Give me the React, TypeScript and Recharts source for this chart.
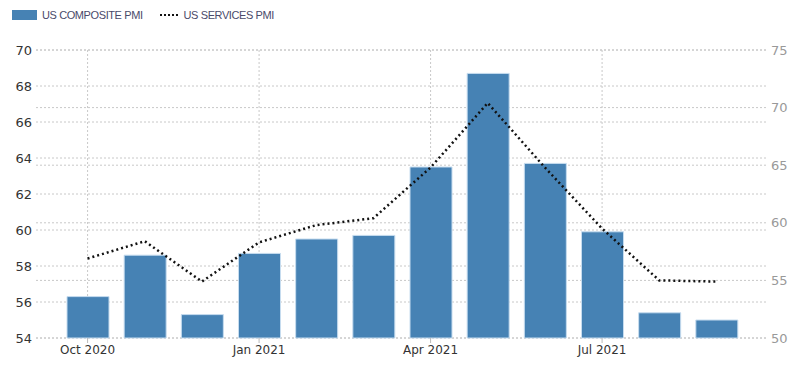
import React from 'react';
import { ComposedChart, Bar, Line, XAxis, YAxis, CartesianGrid } from 'recharts';

const months = [
  'Oct 2020', 'Nov 2020', 'Dec 2020', 'Jan 2021', 'Feb 2021', 'Mar 2021',
  'Apr 2021', 'May 2021', 'Jun 2021', 'Jul 2021', 'Aug 2021', 'Sep 2021',
];
const compositePmi = [56.3, 58.6, 55.3, 58.7, 59.5, 59.7, 63.5, 68.7, 63.7, 59.9, 55.4, 55.0];
const servicesPmi = [56.9, 58.4, 54.9, 58.3, 59.8, 60.4, 64.8, 70.4, 64.8, 59.5, 55.0, 54.9];
const leftTicks = [54, 56, 58, 60, 62, 64, 66, 68, 70];
const rightTicks = [50, 55, 60, 65, 70, 75];

const data = months.map((m, i) => ({ month: m, composite: compositePmi[i], services: servicesPmi[i] }));

const font = '"DejaVu Sans", Tahoma, sans-serif';
const BLUE = '#4682b4';

export default function App() {
  return (
    <div style={{ position: 'absolute', left: 0, top: 0, width: 800, height: 370, background: '#fff', fontFamily: font }}>
      <div style={{ position: 'absolute', left: 12, top: 9, display: 'flex', alignItems: 'center', fontSize: 11, color: '#4a4a6a', fontFamily: '"Liberation Sans", Arial, sans-serif', letterSpacing: -0.4 }}>
        <span style={{ display: 'inline-block', width: 25, height: 10, background: BLUE, marginRight: 5 }} />
        <span>US COMPOSITE PMI</span>
        <svg width={22} height={10} style={{ marginLeft: 16, marginRight: 3 }}>
          <line x1={1} y1={5} x2={19} y2={5} stroke="#111" strokeWidth={2} strokeDasharray="2 2" />
        </svg>
        <span>US SERVICES PMI</span>
      </div>
      <ComposedChart width={800} height={370} data={data} margin={{ top: 50, right: 0, left: 4, bottom: 7 }}>
        <CartesianGrid yAxisId="left" syncWithTicks stroke="#c8c8c8" strokeDasharray="2 2" />
        <CartesianGrid yAxisId="right" vertical={false} stroke="#c8c8c8" strokeDasharray="2 2" />
        <XAxis
          dataKey="month"
          interval={2}
          padding={{ left: 23, right: 23 }}
          axisLine={false}
          tickLine={{ stroke: '#bbb' }}
          tickSize={5}
          tick={{ fill: '#333', fontSize: 12, fontFamily: font }}
          height={25}
        />
        <YAxis
          yAxisId="left"
          domain={[54, 70]}
          ticks={leftTicks}
          axisLine={false}
          tickLine={false}
          tickSize={0}
          tickMargin={4}
          tick={{ fill: '#333', fontSize: 13, fontFamily: font }}
          width={32}
        />
        <YAxis
          yAxisId="right"
          orientation="right"
          domain={[50, 75]}
          ticks={rightTicks}
          axisLine={false}
          tickLine={false}
          tickSize={0}
          tickMargin={3}
          tick={{ fill: '#999', fontSize: 13, fontFamily: font }}
          width={32}
        />
        <Bar yAxisId="left" dataKey="composite" fill={BLUE} stroke="#c6dcef" strokeWidth={1} barSize={42} isAnimationActive={false} />
        <Line
          yAxisId="right"
          dataKey="services"
          stroke="#111"
          strokeWidth={2.5}
          strokeDasharray="2 3"
          dot={false}
          activeDot={false}
          type="linear"
          isAnimationActive={false}
        />
      </ComposedChart>
    </div>
  );
}
